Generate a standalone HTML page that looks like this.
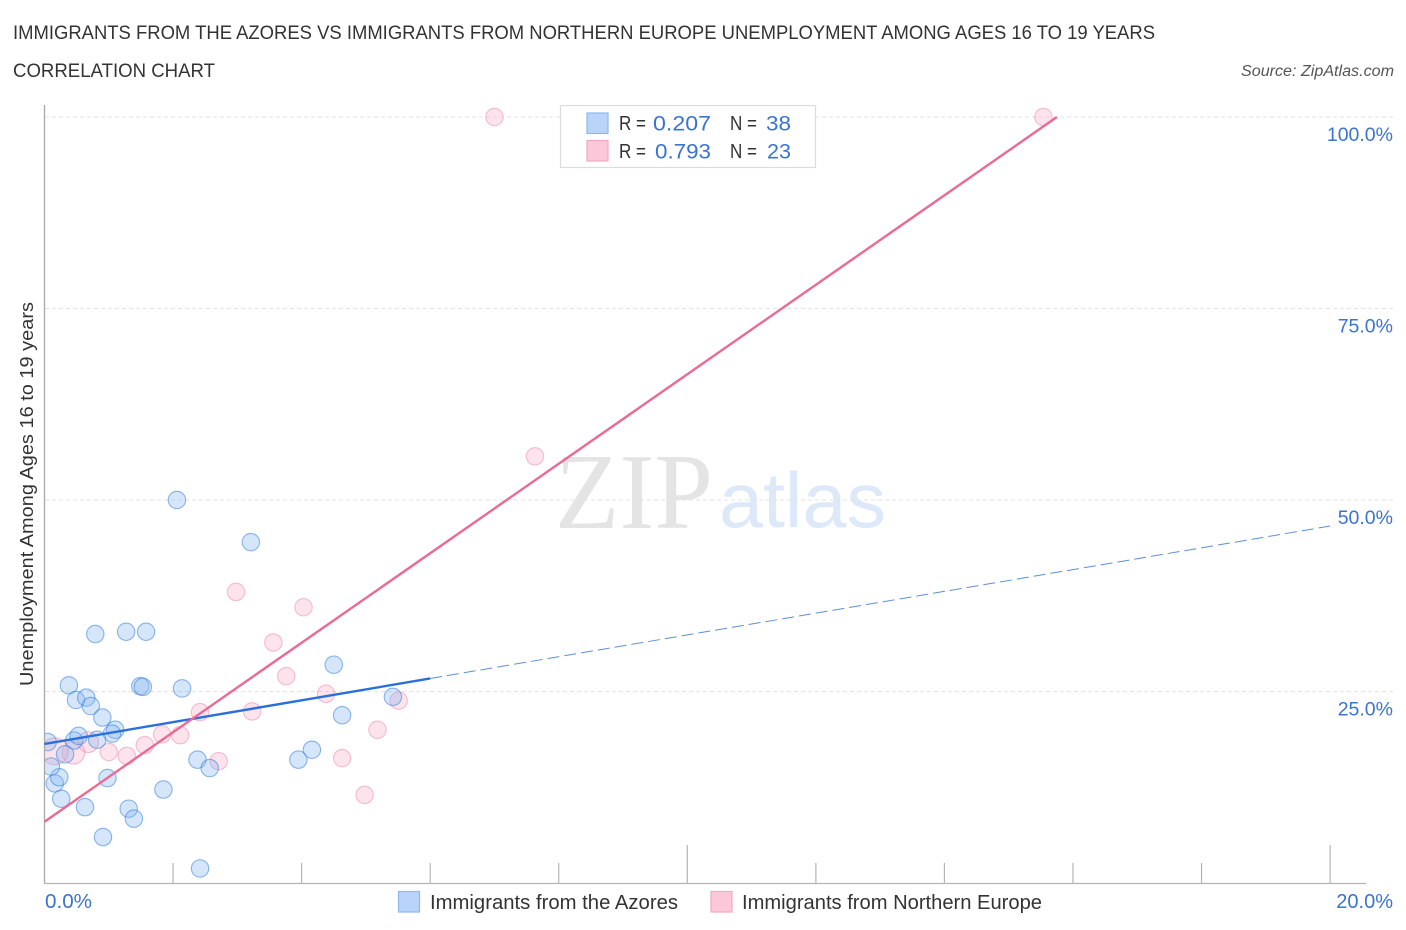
<!DOCTYPE html>
<html lang="en">
<head>
<meta charset="utf-8">
<title>Immigrants from the Azores vs Immigrants from Northern Europe Unemployment Correlation Chart</title>
<style>
html,body{margin:0;padding:0;background:#fff;width:1406px;height:930px;overflow:hidden}
svg{display:block;font-family:"Liberation Sans",sans-serif}
</style>
</head>
<body>
<svg id="chart" xmlns="http://www.w3.org/2000/svg" width="1406" height="930" viewBox="0 0 1406 930">
  <defs>
    <clipPath id="plot-clip"><rect x="45" y="100" width="1350" height="783"/></clipPath>
  </defs>
  <text x="13" y="39" font-size="19" fill="#333" textLength="1142" lengthAdjust="spacingAndGlyphs">IMMIGRANTS FROM THE AZORES VS IMMIGRANTS FROM NORTHERN EUROPE UNEMPLOYMENT AMONG AGES 16 TO 19 YEARS</text>
  <text x="13" y="77" font-size="19" fill="#333" textLength="202" lengthAdjust="spacingAndGlyphs">CORRELATION CHART</text>
  <text x="1241" y="76" font-size="15.5" font-style="italic" fill="#555" textLength="153" lengthAdjust="spacingAndGlyphs">Source: ZipAtlas.com</text>

  <g id="watermark">
    <text x="555" y="528" font-family="'Liberation Serif',serif" font-size="108" fill="#e4e4e4" textLength="158" lengthAdjust="spacingAndGlyphs">ZIP</text>
    <text x="719" y="527" font-size="78" fill="#dde9f9" textLength="167" lengthAdjust="spacingAndGlyphs">atlas</text>
  </g>

  <g id="grid"></g>
  <g id="ticks"></g>
  <line x1="44.5" y1="105" x2="44.5" y2="883.5" stroke="#a8a8a8" stroke-width="1.3"/>
  <line x1="44" y1="883.5" x2="1366" y2="883.5" stroke="#b4b4b4" stroke-width="1.3"/>

  <g id="points-pink" clip-path="url(#plot-clip)"></g>
  <g id="points-blue" clip-path="url(#plot-clip)"></g>
  <g id="lines"></g>

  <text transform="translate(33,494) rotate(-90)" font-size="18.5" fill="#333" text-anchor="middle" textLength="384" lengthAdjust="spacingAndGlyphs">Unemployment Among Ages 16 to 19 years</text>
  <g id="ytick-labels"></g>
  <text x="45" y="908" font-size="20" fill="#3b73d1" textLength="47" lengthAdjust="spacingAndGlyphs">0.0%</text>
  <text x="1393" y="908" font-size="20" fill="#3b73d1" text-anchor="end">20.0%</text>

  <g>
    <rect x="560.5" y="105.5" width="255" height="62" fill="#fff" stroke="#dcdcdc" stroke-width="1.2"/>
    <rect x="587" y="113" width="21" height="20.5" fill="#b9d4f8" stroke="#8fb8ec" stroke-width="1.2"/>
    <rect x="587" y="140.5" width="21" height="20.5" fill="#fcc8d9" stroke="#f3a9c1" stroke-width="1.2"/>
    <g font-size="20">
      <text x="619" y="130" fill="#333" textLength="27" lengthAdjust="spacingAndGlyphs">R =</text>
      <text x="653" y="130.5" fill="#3b73d1" font-size="21.5" textLength="58" lengthAdjust="spacingAndGlyphs">0.207</text>
      <text x="730" y="130" fill="#333" textLength="27" lengthAdjust="spacingAndGlyphs">N =</text>
      <text x="766" y="130.5" fill="#3b73d1" font-size="21.5" textLength="25" lengthAdjust="spacingAndGlyphs">38</text>
      <text x="619" y="158" fill="#333" textLength="27" lengthAdjust="spacingAndGlyphs">R =</text>
      <text x="655" y="158.5" fill="#3b73d1" font-size="21.5" textLength="56" lengthAdjust="spacingAndGlyphs">0.793</text>
      <text x="730" y="158" fill="#333" textLength="27" lengthAdjust="spacingAndGlyphs">N =</text>
      <text x="767" y="158.5" fill="#3b73d1" font-size="21.5" textLength="24" lengthAdjust="spacingAndGlyphs">23</text>
    </g>
  </g>

  <g>
    <rect x="398.5" y="891.5" width="21" height="20.5" fill="#b9d4f8" stroke="#8fb8ec" stroke-width="1.2"/>
    <text x="430" y="909" font-size="20" fill="#333" textLength="248" lengthAdjust="spacingAndGlyphs">Immigrants from the Azores</text>
    <rect x="711" y="891.5" width="21" height="20.5" fill="#fcc8d9" stroke="#f3a9c1" stroke-width="1.2"/>
    <text x="742" y="909" font-size="20" fill="#333" textLength="300" lengthAdjust="spacingAndGlyphs">Immigrants from Northern Europe</text>
  </g>
</svg>
<script>
const yTickValues = [25, 50, 75, 100];
const yTickLabels = ["25.0%", "50.0%", "75.0%", "100.0%"];
const xTickValues = [2, 4, 6, 8, 10, 12, 14, 16, 18, 20];
const xMajorTicks = [10, 20];

const azoresX = [0.79,1.27,1.58,0.38,0.49,0.65,0.72,0.90,1.10,1.05,1.49,1.53,2.14,4.50,5.42,4.63,4.16,3.95,2.38,2.57,1.85,0.98,1.31,1.39,0.91,0.63,0.26,0.16,0.23,0.10,0.05,0.46,0.53,0.82,0.32,2.42,2.06,3.21];
const azoresY = [32.5,32.8,32.8,25.8,23.9,24.2,23.1,21.6,20.0,19.5,25.7,25.6,25.4,28.5,24.3,21.9,17.4,16.1,16.1,15.0,12.2,13.7,9.7,8.4,6.0,9.9,11.0,13.0,13.8,15.2,18.4,18.6,19.2,18.7,16.8,1.9,50.0,44.5];

const europeX = [3.56,3.76,4.38,5.51,3.23,2.42,5.18,2.11,1.83,1.56,1.28,1.00,2.71,4.63,4.98,0.68,0.45,0.16,7.00,15.54,7.63,2.98,4.03];
const europeY = [31.4,27.0,24.7,23.8,22.4,22.3,20.0,19.3,19.4,18.0,16.6,17.1,15.9,16.3,11.5,18.4,17.0,17.2,100,100,55.7,38.0,36.0];
const europeWeight = [1,1,1,1,1,1,1,1,1,1,1,1,1,1,1,1.2,1.3,1.55,1,1,1,1,1];

const azoresTrendX = [0, 6, 20];
const azoresTrendY = [18.15, 26.7, 46.6];
const europeTrendX = [0, 15.75];
const europeTrendY = [8.0, 100];

const NS = "http://www.w3.org/2000/svg";
function xScale(v) { return 44.5 + v * 64.28; }
function yScale(v) { return 883 - v * 7.66; }
function make(tag, attrs, parent) {
  const el = document.createElementNS(NS, tag);
  for (const k in attrs) el.setAttribute(k, attrs[k]);
  parent.appendChild(el);
  return el;
}

const grid = document.getElementById("grid");
const labelsGroup = document.getElementById("ytick-labels");
yTickValues.forEach(function (v, i) {
  const y = yScale(v);
  const line = make("line", {x1: 45, x2: 1393, y1: y, y2: y, stroke: "#e3e3e3", "stroke-width": 1, "stroke-dasharray": "4 3"}, grid);
  
  
  const label = make("text", {x: 1393, y: y + 24, "font-size": 19.5, fill: "#3b73d1", "text-anchor": "end"}, labelsGroup);
  label.textContent = yTickLabels[i];
  
  
});

const ticks = document.getElementById("ticks");
xTickValues.forEach(function (v) {
  const x = xScale(v);
  const top = xMajorTicks.indexOf(v) >= 0 ? 845 : 863;
  const tick = make("line", {x1: x, x2: x, y1: top, y2: 883, stroke: "#b4b4b4", "stroke-width": 1.2}, ticks);
  
  
});

const pinkGroup = document.getElementById("points-pink");
europeX.forEach(function (v, i) {
  const c = make("circle", {cx: xScale(v), cy: yScale(europeY[i]), r: 8.7 * europeWeight[i], fill: "rgba(249,172,198,0.34)", stroke: "rgba(240,130,170,0.5)", "stroke-width": 1.1}, pinkGroup);
  
  
});

const blueGroup = document.getElementById("points-blue");
azoresX.forEach(function (v, i) {
  const c = make("circle", {cx: xScale(v), cy: yScale(azoresY[i]), r: 8.7, fill: "rgba(130,180,240,0.33)", stroke: "rgba(50,125,220,0.55)", "stroke-width": 1.1}, blueGroup);
  
  
});

const linesGroup = document.getElementById("lines");
const blueSolid = make("line", {x1: xScale(azoresTrendX[0]), y1: yScale(azoresTrendY[0]), x2: xScale(azoresTrendX[1]), y2: yScale(azoresTrendY[1]), stroke: "#2a6fdb", "stroke-width": 2.4}, linesGroup);


const blueDash = make("line", {x1: xScale(azoresTrendX[1]), y1: yScale(azoresTrendY[1]), x2: xScale(azoresTrendX[2]), y2: yScale(azoresTrendY[2]), stroke: "#5f8fd6", "stroke-width": 1, "stroke-dasharray": "12 5"}, linesGroup);


const pinkLine = make("line", {x1: xScale(europeTrendX[0]), y1: yScale(europeTrendY[0]), x2: xScale(europeTrendX[1]), y2: yScale(europeTrendY[1]), stroke: "#ea6a96", "stroke-width": 2.4}, linesGroup);


</script>
</body>
</html>
